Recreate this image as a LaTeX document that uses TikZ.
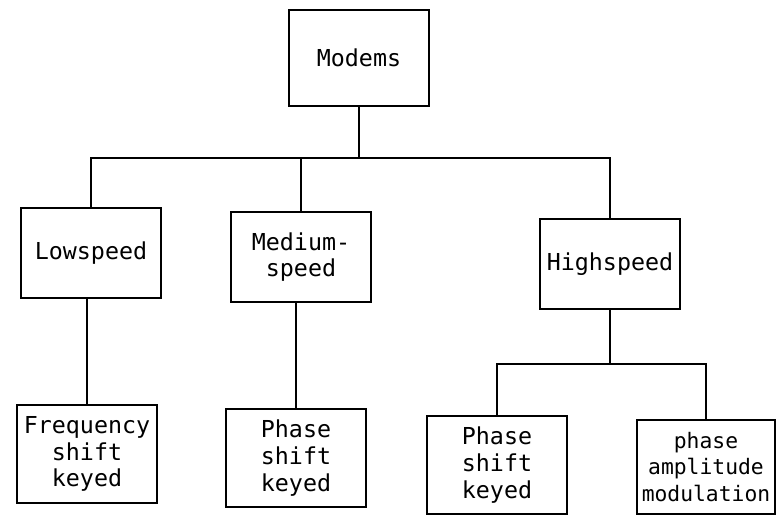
\documentclass[tikz,border=0pt]{standalone}
\usepackage{fontspec}
\setmonofont{DejaVu Sans Mono}
\tikzset{
  modbox/.style={draw, line width=1.6pt, align=center, inner sep=0pt,
    minimum width=105pt, font=\ttfamily\fontsize{17.5}{20}\selectfont},
}
\begin{document}
\begin{tikzpicture}[x=0.75pt, y=-0.75pt, line width=1.6pt]
  \useasboundingbox (0,0) rectangle (776,518);
  % top level
  \node[modbox, minimum height=72pt] (modems) at (359,58) {Modems};
  % speed classes
  \node[modbox, minimum height=67pt] (low) at (91,253) {Lowspeed};
  \node[modbox, minimum height=68pt] (med) at (301,257) {Medium-\\speed};
  \node[modbox, minimum height=68pt] (high) at (610,264) {Highspeed};
  % modulation methods
  \node[modbox, minimum height=74pt] (fsk) at (87,454) {Frequency\\shift\\keyed};
  \node[modbox, minimum height=74pt] (psk1) at (296,458) {Phase\\shift\\keyed};
  \node[modbox, minimum height=73pt] (psk2) at (497,465) {Phase\\shift\\keyed};
  \node[modbox, minimum height=71pt, minimum width=103.5pt,
    font=\ttfamily\fontsize{16}{20}\selectfont] (pam) at (706,467) {phase\\amplitude\\modulation};
  % connectors
  \coordinate (bus) at (357,158);
  \coordinate (hbus) at (611,364);
  \draw (modems.south) -- (modems.south |- bus);
  \draw (low.north) -- (low.north |- bus) -- (high.north |- bus) -- (high.north);
  \draw (med.north) -- (med.north |- bus);
  \draw (fsk.north) -- (fsk.north |- low.south);
  \draw (psk1.north) -- (psk1.north |- med.south);
  \draw (high.south) -- (high.south |- hbus);
  \draw (psk2.north) -- (psk2.north |- hbus) -- (pam.north |- hbus) -- (pam.north);
\end{tikzpicture}
\end{document}
